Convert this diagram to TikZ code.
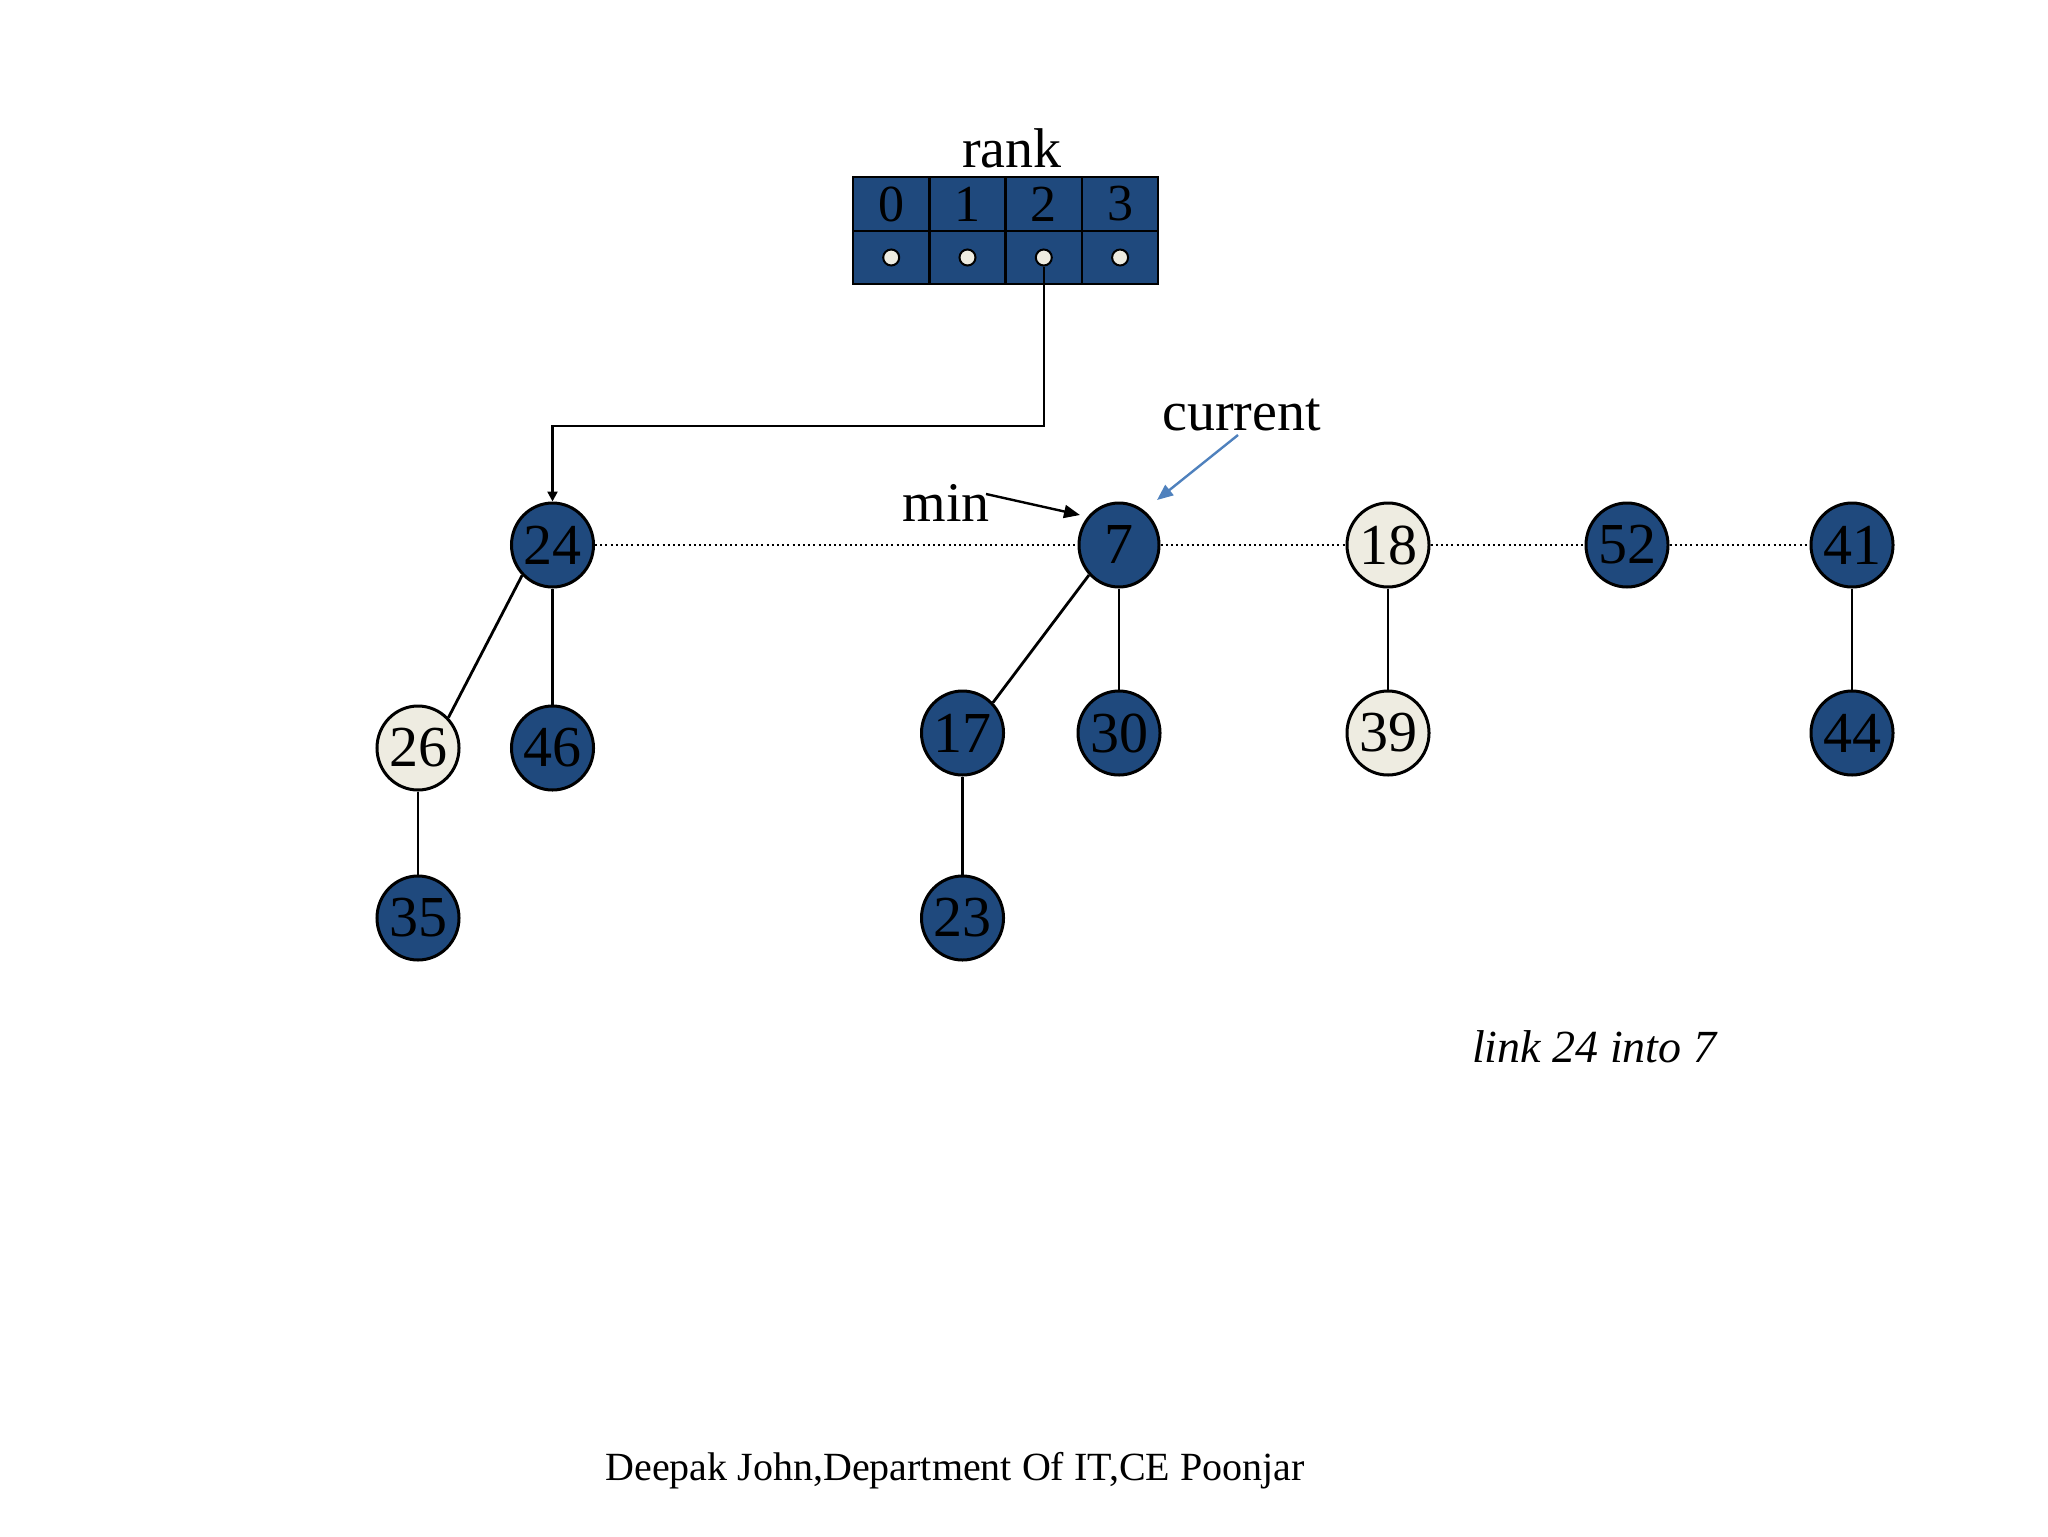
\documentclass[tikz,border=0pt]{standalone}
\usepackage{fontspec}
\setmainfont{Liberation Serif}
\usetikzlibrary{shapes.geometric,arrows.meta}
\definecolor{hblue}{RGB}{31,73,125}
\definecolor{hbeige}{RGB}{238,236,225}
\definecolor{hlink}{RGB}{79,129,189}
\newcommand{\celltxt}[1]{\raisebox{-2.5pt}{#1}}
\begin{document}
\begin{tikzpicture}[x=0.5pt,y=-0.5pt,
  hnode/.style={ellipse, draw=black, line width=1.5pt, minimum width=40pt, minimum height=42pt, inner sep=0pt, font=\fontsize{29}{29}\selectfont},
  dk/.style={hnode, fill=hblue},
  lt/.style={hnode, fill=hbeige},
  tree/.style={draw=black, line width=1.4pt},
  dotline/.style={draw=black, line width=1pt, dash pattern=on 1pt off 1.6pt},
  cell/.style={rectangle, draw=black, line width=1.2pt, fill=hblue, minimum width=38.15pt, minimum height=26.75pt, inner sep=0pt, font=\fontsize{26}{26}\selectfont},
  ptr/.style={circle, draw=black, line width=1pt, fill=hbeige, minimum size=8pt, inner sep=0pt},
  lbl/.style={anchor=base, inner sep=0pt, font=\fontsize{28}{28}\selectfont}
]
\useasboundingbox (0,0) rectangle (2048,1536);

% rank table
\node[cell] (c0) at (891.2,204) {\celltxt{0}};
\node[cell] (c1) at (967.5,204) {\celltxt{1}};
\node[cell] (c2) at (1043.8,204) {\celltxt{2}};
\node[cell] (c3) at (1120.1,204) {\celltxt{3}};
\node[cell] (p0) at (891.2,257.5) {};
\node[cell] (p1) at (967.5,257.5) {};
\node[cell] (p2) at (1043.8,257.5) {};
\node[cell] (p3) at (1120.1,257.5) {};
\node[ptr] (d0) at (p0.center) {};
\node[ptr] (d1) at (p1.center) {};
\node[ptr] (d2) at (p2.center) {};
\node[ptr] (d3) at (p3.center) {};
\node[lbl] (rank) at (1012,167) {rank};

% nodes
\node[dk] (n24) at (552.5,545) {24};
\node[dk] (n7)  at (1119,545) {7};
\node[lt] (n18) at (1388,545) {18};
\node[dk] (n52) at (1627,545) {52};
\node[dk] (n41) at (1852,545) {41};
\node[lt] (n26) at (418,748) {26};
\node[dk] (n46) at (552.5,748) {46};
\node[dk] (n35) at (418,918) {35};
\node[dk] (n17) at (962.5,733) {17};
\node[dk] (n30) at (1119,733) {30};
\node[dk] (n23) at (962.5,918) {23};
\node[lt] (n39) at (1388,733) {39};
\node[dk] (n44) at (1852,733) {44};

% root list
\draw[dotline] (n24) -- (n7);
\draw[dotline] (n7) -- (n18);
\draw[dotline] (n18) -- (n52);
\draw[dotline] (n52) -- (n41);

% tree edges
\draw[tree] (n24.225) -- (n26.45);
\draw[tree] (n24) -- (n46);
\draw[tree] (n26) -- (n35);
\draw[tree] (n7.225) -- (n17.45);
\draw[tree] (n7) -- (n30);
\draw[tree] (n17) -- (n23);
\draw[tree] (n18) -- (n39);
\draw[tree] (n41) -- (n44);

% rank pointer
\coordinate (rk) at (1043.8,426);
\draw[line width=1.2pt, -{Triangle[length=5pt,width=5pt]}] (d2.south) -- (rk) -| (n24.north);

% labels
\node[lbl] (mintxt) at (946,521.5) {min};
\node[lbl] (curtxt) at (1241.5,430) {current};
\coordinate (minstart) at (986,494);
\coordinate (mintip) at (1080,515);
\coordinate (curstart) at (1238,435);
\coordinate (curtip) at (1157,500);
\draw[line width=1.2pt, -{Triangle[length=8pt,width=6.5pt]}] (minstart) -- (mintip);
\draw[hlink, line width=1.2pt, -{Triangle[length=8pt,width=6.5pt]}] (curstart) -- (curtip);

\node[lbl, font=\fontsize{23}{23}\selectfont\itshape] (linktxt) at (1594,1062) {link 24 into 7};
\node[lbl, font=\fontsize{20}{20}\selectfont] (footer) at (955,1480) {Deepak John,Department Of IT,CE Poonjar};
\end{tikzpicture}
\end{document}
